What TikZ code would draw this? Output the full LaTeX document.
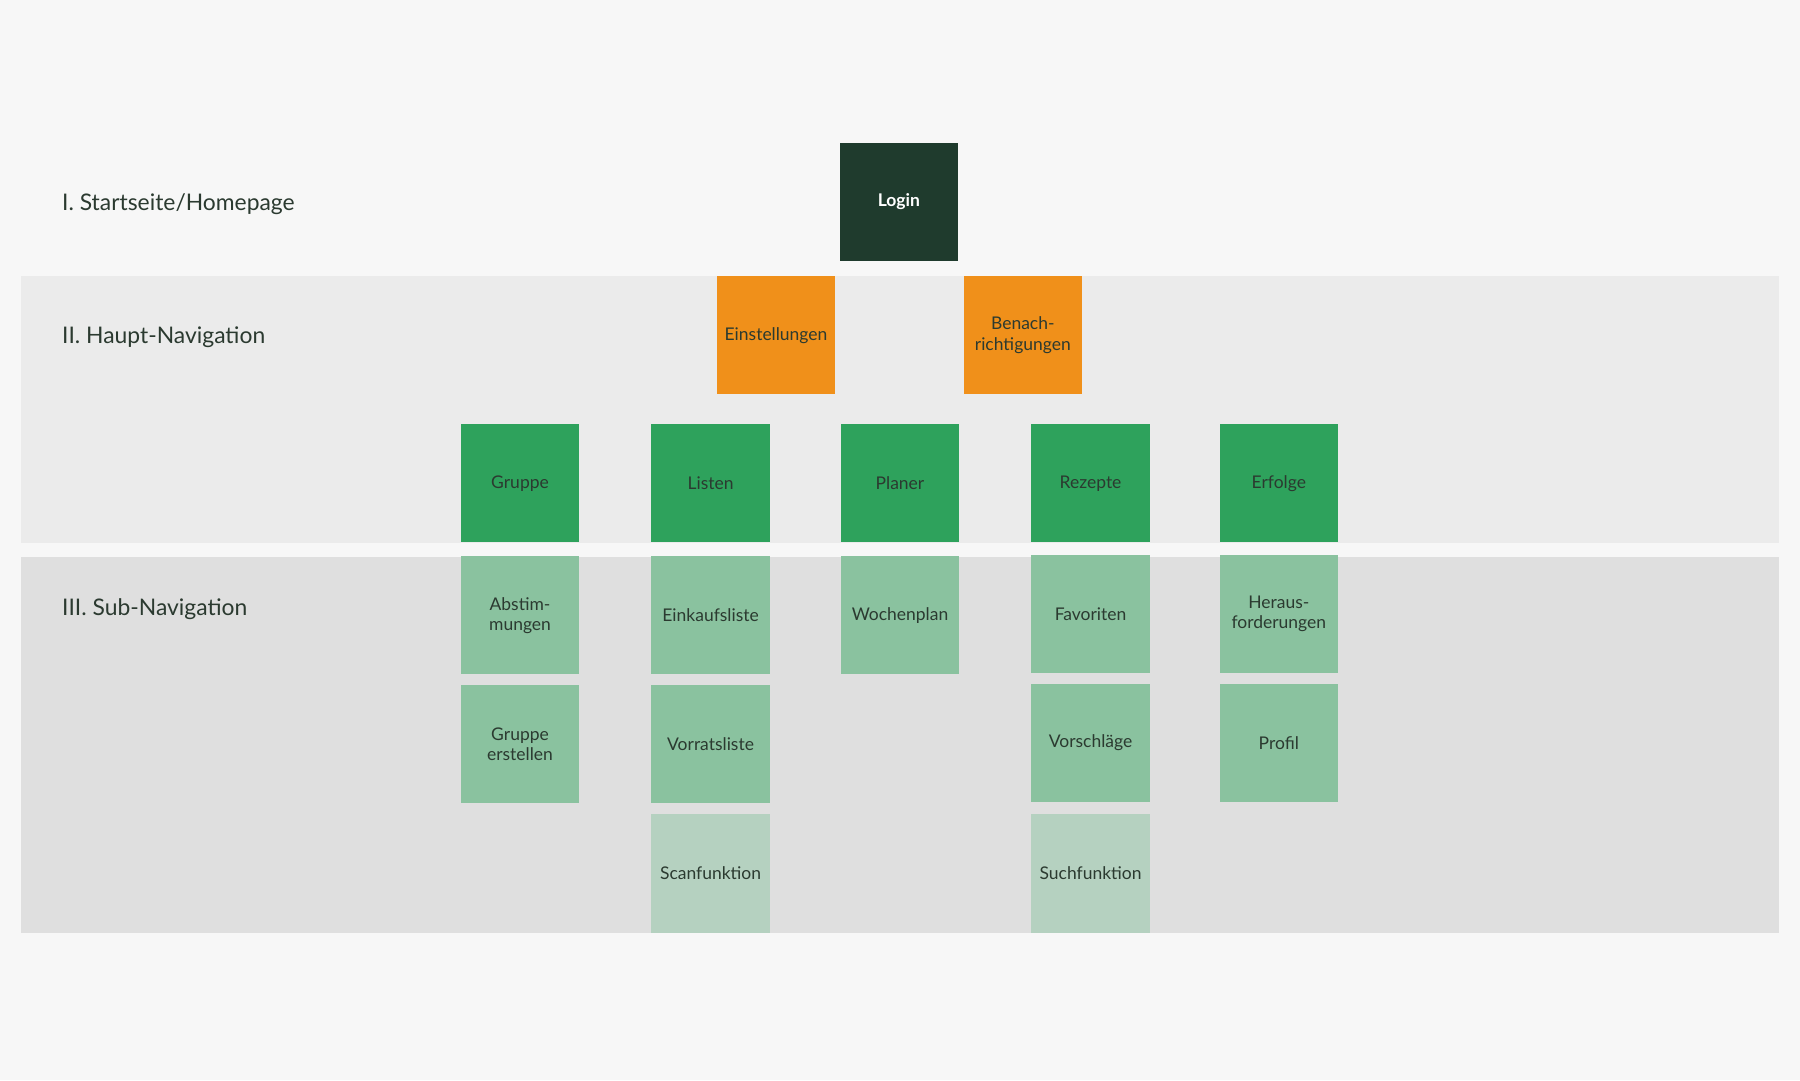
\documentclass[tikz,border=0pt]{standalone}
\usepackage{fontspec}
\setmainfont{Lato}
\definecolor{bgpage}{HTML}{F7F7F7}
\definecolor{bandtwo}{HTML}{EBEBEB}
\definecolor{bandthree}{HTML}{DFDFDF}
\definecolor{darkgreen}{HTML}{1F3B2D}
\definecolor{orangebox}{HTML}{F0901A}
\definecolor{greenbox}{HTML}{2EA25C}
\definecolor{lightgreen}{HTML}{8AC29F}
\definecolor{palegreen}{HTML}{B5D1C0}
\definecolor{txt}{HTML}{2B3A30}
\tikzset{
  box/.style={minimum width=3.09cm,minimum height=3.09cm,inner sep=2pt,align=center,
    text=txt,font=\fontsize{13}{15}\selectfont},
  login/.style={box,fill=darkgreen,text=white,font=\bfseries\fontsize{13}{15}\selectfont},
  main/.style={box,fill=orangebox},
  level/.style={box,fill=greenbox},
  sub/.style={box,fill=lightgreen},
  extra/.style={box,fill=palegreen},
  lane/.style={anchor=west,text=txt,font=\fontsize{17}{20}\selectfont}
}
\begin{document}
\begin{tikzpicture}[x=0.03cm,y=-0.03cm]
  % background and bands
  \fill[bgpage] (0,0) rectangle (1568,941);
  \useasboundingbox (0,0) rectangle (1568,941);
  \fill[bandtwo] (18,240) rectangle (1550,473);
  \fill[bandthree] (18,485) rectangle (1550,813);

  % lane labels
  \node[lane] (laneone) at (50,178) {I. Startseite/Homepage};
  \node[lane] (lanetwo) at (50,294) {II. Haupt-Navigation};
  \node[lane] (lanethree) at (50,531) {III. Sub-Navigation};

  % top
  \node[login] (login) at (783,176) {Login};
  \node[main] (einst) at (676,292) {Einstellungen};
  \node[main] (benach) at (891,292) {Benach-\\richtigungen};

  % levels
  \node[level] (gruppe) at (453,421) {Gruppe};
  \node[level] (listen) at (619,421) {Listen};
  \node[level] (planer) at (784,421) {Planer};
  \node[level] (rezepte) at (950,421) {Rezepte};
  \node[level] (erfolge) at (1114,421) {Erfolge};

  % sub navigation
  \node[sub] (abstim) at (453,536) {Abstim-\\mungen};
  \node[sub] (gerst) at (453,648) {Gruppe\\erstellen};
  \node[sub] (einkauf) at (619,536) {Einkaufsliste};
  \node[sub] (vorrat) at (619,648) {Vorratsliste};
  \node[extra] (scan) at (619,761) {Scanfunktion};
  \node[sub] (woche) at (784,536) {Wochenplan};
  \node[sub] (favor) at (950,535) {Favoriten};
  \node[sub] (vorschl) at (950,647) {Vorschläge};
  \node[extra] (such) at (950,761) {Suchfunktion};
  \node[sub] (heraus) at (1114,535) {Heraus-\\forderungen};
  \node[sub] (profil) at (1114,647) {Profil};
\end{tikzpicture}
\end{document}
